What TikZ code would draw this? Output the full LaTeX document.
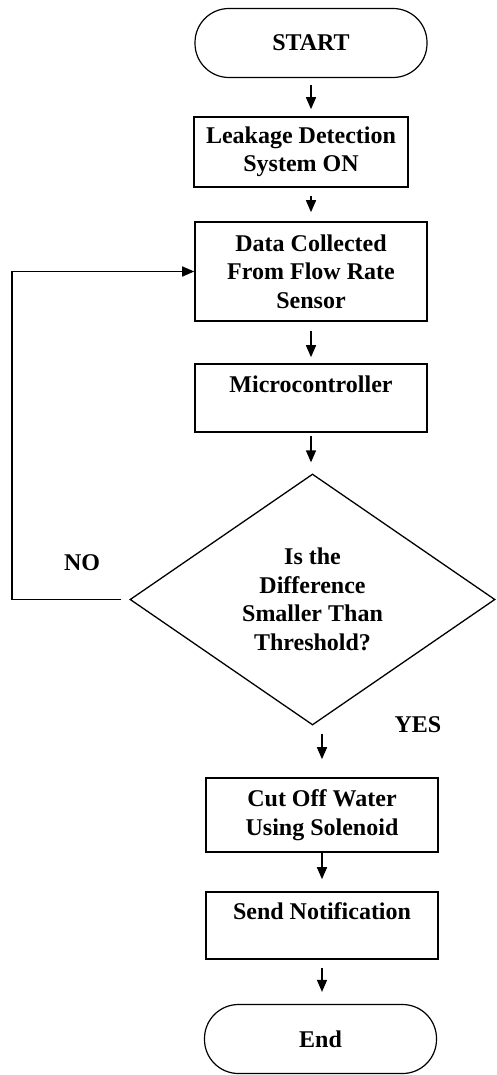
\documentclass[tikz,border=0pt]{standalone}
\usepackage{fontspec}
\setmainfont{Liberation Serif}
\usetikzlibrary{shapes.geometric,arrows.meta}

\begin{document}
\begin{tikzpicture}[x=1pt, y=-1pt, align=center,
  font=\fontsize{24}{28.5}\selectfont\bfseries,
  every node/.style={inner sep=0pt},
  term/.style={draw, line width=1.2pt, rounded corners=34pt, minimum width=232pt, minimum height=69pt},
  box/.style={draw, line width=1.6pt, minimum width=232pt},
  decision/.style={draw, line width=1.3pt, diamond, minimum width=365pt, minimum height=251pt},
  arr/.style={line width=1.5pt, -{Triangle[length=12pt,width=10pt]}}]

\useasboundingbox (0,0) rectangle (496,1075);

\node[term] (start) at (311, 43) {START};
\node[box, minimum width=214pt, minimum height=70pt] (leak) at (301, 152) {Leakage Detection\\System ON};
\node[box, minimum height=99pt] (data) at (311, 271.5) {Data Collected\\From Flow Rate\\Sensor};
\node[box, minimum height=68pt] (micro) at (311, 398) {Microcontroller\\ \mbox{}};
\node[decision] (dec) at (312.5, 599.5) {Is the\\Difference\\Smaller Than\\Threshold?};
\node[box, minimum height=74pt] (cut) at (322, 815) {Cut Off Water\\Using Solenoid};
\node[box, minimum height=67pt] (notify) at (322, 925.5) {Send Notification\\ \mbox{}};
\node[term] (finish) at (320.5, 1039) {End};
\node (no) at (82, 563) {NO};
\node (yes) at (418, 725) {YES};
\coordinate (noturn) at (12, 597);

\draw[arr, shorten <=7pt, shorten >=7pt] (start.south) -- (start.south |- leak.north);
\draw[arr, shorten <=8pt, shorten >=9pt] (leak.south -| data.north) -- (data.north);
\draw[arr, shorten <=9pt, shorten >=6pt] (data.south) -- (micro.north);
\draw[arr, shorten <=3pt, shorten >=11pt] (micro.south) -- (micro.south |- dec.north);
\draw[arr, shorten <=8pt] (dec.west) -- (dec.west -| noturn) |- (data.west);
\draw[arr, shorten <=8pt, shorten >=18pt] (cut.north |- dec.south) -- (cut.north);
\draw[arr, shorten >=12pt] (cut.south) -- (notify.north);
\draw[arr, shorten <=8pt, shorten >=12pt] (notify.south) -- (notify.south |- finish.north);

\end{tikzpicture}
\end{document}
